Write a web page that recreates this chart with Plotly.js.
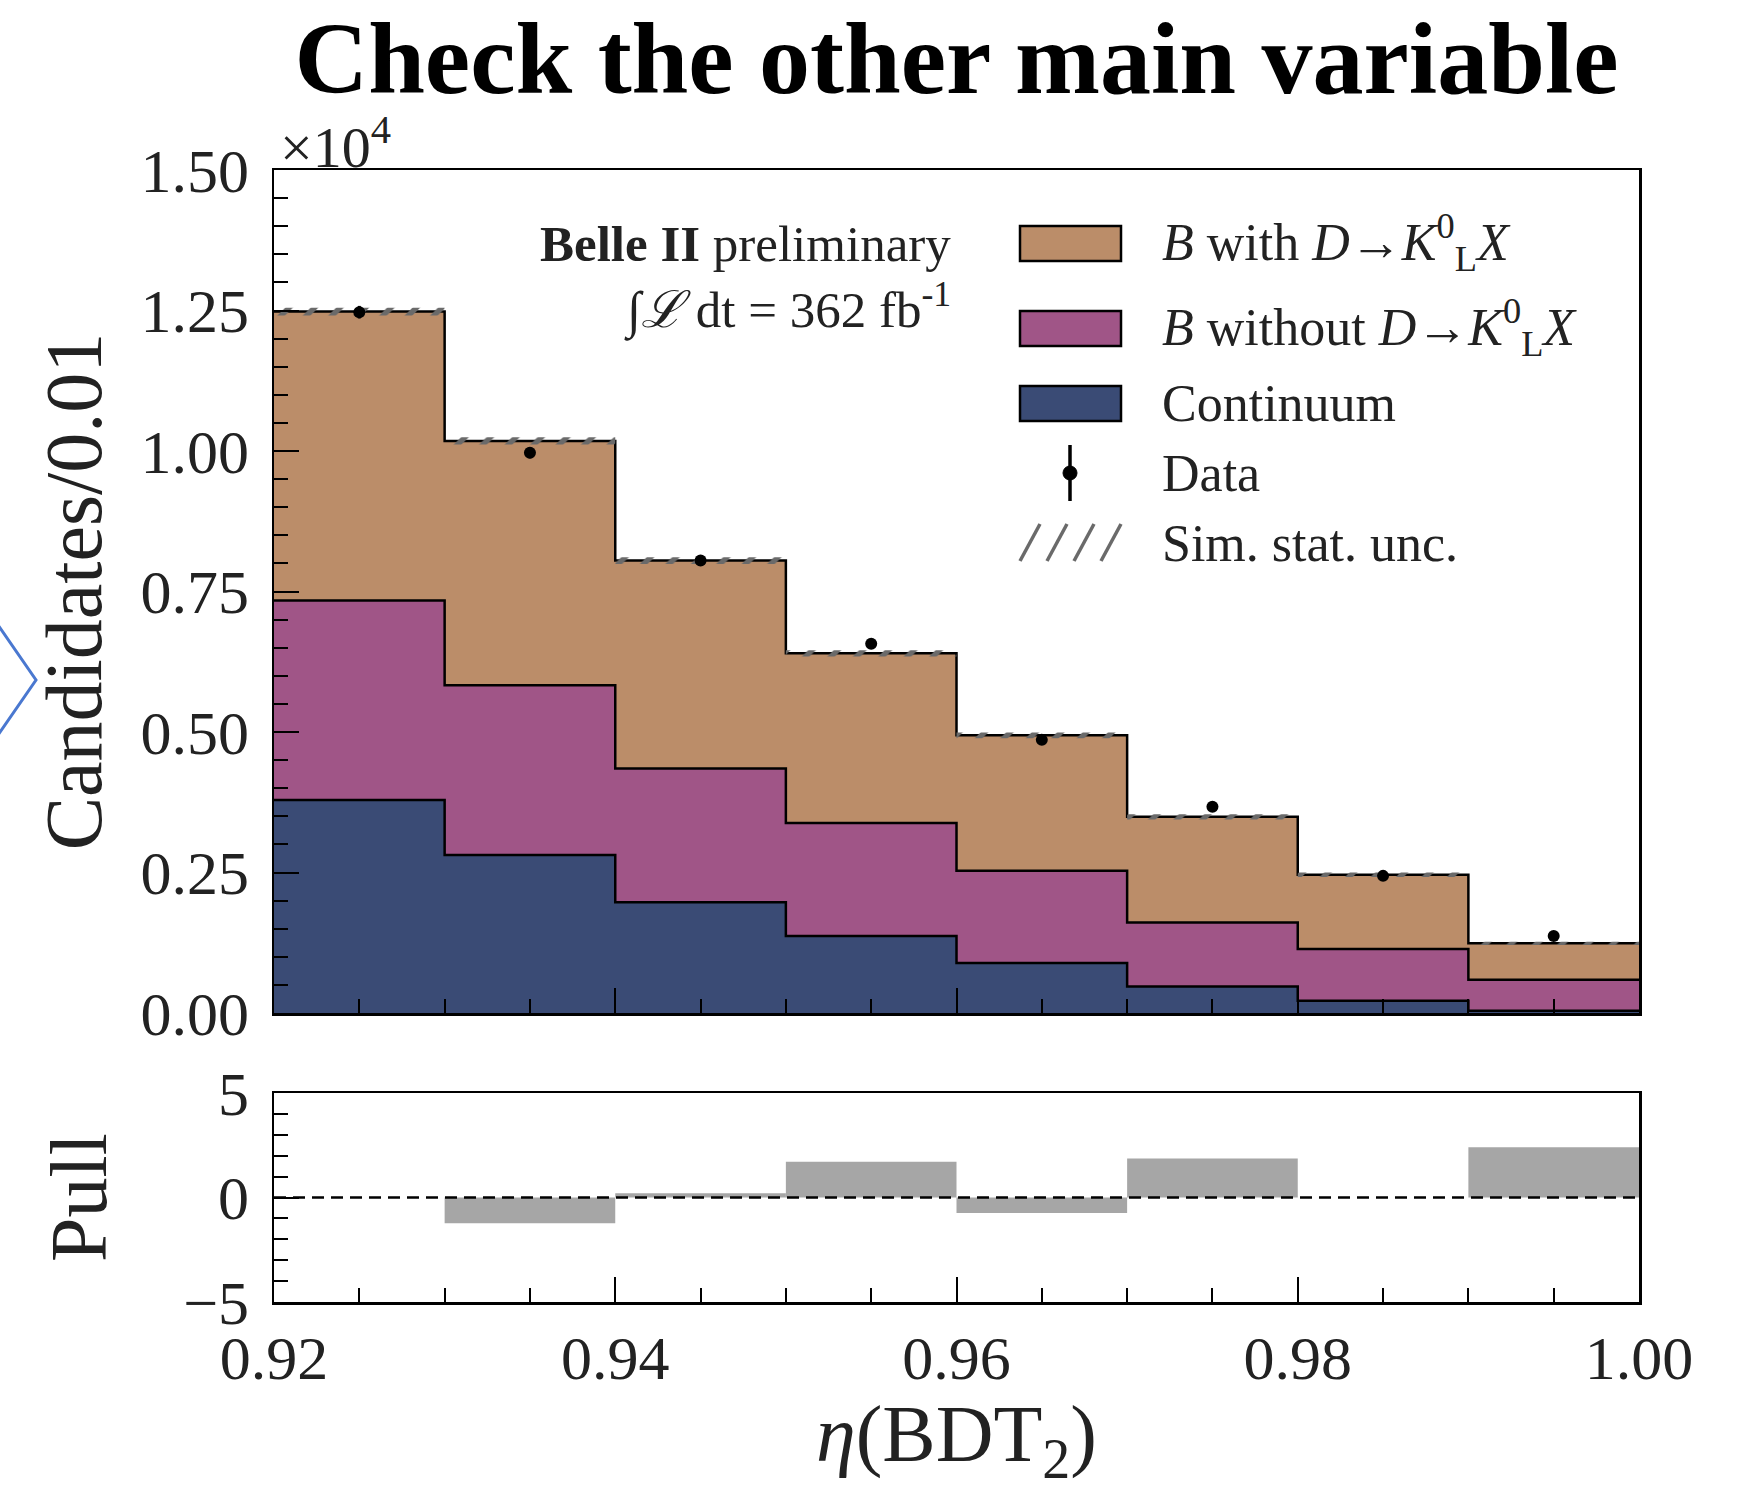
<!DOCTYPE html>
<html>
<head>
<meta charset="utf-8">
<script src="https://cdn.plot.ly/plotly-3.0.1.min.js"></script>
<style>html,body{margin:0;padding:0;background:#fff;}#chart{width:1752px;height:1490px;}</style>
</head>
<body>
<div id="chart"></div>
<script>
// ---- data (counts per bin of width 0.01) ----
const binEdges = [0.92, 0.93, 0.94, 0.95, 0.96, 0.97, 0.98, 0.99, 1.00];
const continuum = [3790, 2810, 1970, 1370, 890, 470, 220, 40];
const bWithout = [3550, 3020, 2380, 2010, 1640, 1140, 920, 550];
const bWith = [5140, 4350, 3700, 3020, 2410, 1880, 1320, 650];
const dataCounts = [12470, 9970, 8050, 6570, 4860, 3670, 2440, 1370];
const dataErr = [112, 100, 90, 81, 70, 61, 49, 37];
const simUnc = [70, 65, 60, 55, 50, 45, 40, 30];
const pull = [0.0, -1.23, 0.2, 1.71, -0.74, 1.87, 0.0, 2.4];
const yTickVals = [0, 2500, 5000, 7500, 10000, 12500, 15000];
const xTickVals = [0.92, 0.94, 0.96, 0.98, 1.00];
const legendLabels = [
  '<i>B</i> with <i>D</i>→<i>K</i><sup>0</sup><sub>L</sub><i>X</i>',
  '<i>B</i> without <i>D</i>→<i>K</i><sup>0</sup><sub>L</sub><i>X</i>',
  'Continuum', 'Data', 'Sim. stat. unc.'
];

// ---- derived ----
const centers = continuum.map((_, i) => (binEdges[i] + binEdges[i + 1]) / 2);
const cumPurple = continuum.map((v, i) => v + bWithout[i]);
const total = cumPurple.map((v, i) => v + bWith[i]);
const step = arr => arr.concat([arr[arr.length - 1]]);
const W = 1752, H = 1490, L = 274, R = 113, T = 170, B = 188;
const PW = W - L - R, PH = H - T - B;
const px = x => (x - L) / PW;
const py = y => (H - B - y) / PH;

const COL_BWITH = '#bb8d69', COL_BWO = '#a05587', COL_CONT = '#3a4b75';
const FONT = 'Liberation Serif, DejaVu Serif, serif';

const stepLine = {color: 'black', width: 2.5, shape: 'hv'};
const traces = [
  {x: binEdges, y: step(continuum), type: 'scatter', mode: 'lines', line: stepLine,
   fill: 'tozeroy', fillcolor: COL_CONT, xaxis: 'x', yaxis: 'y', hoverinfo: 'skip'},
  {x: binEdges, y: step(cumPurple), type: 'scatter', mode: 'lines', line: stepLine,
   fill: 'tonexty', fillcolor: COL_BWO, xaxis: 'x', yaxis: 'y', hoverinfo: 'skip'},
  {x: binEdges, y: step(total), type: 'scatter', mode: 'lines', line: stepLine,
   fill: 'tonexty', fillcolor: COL_BWITH, xaxis: 'x', yaxis: 'y', hoverinfo: 'skip'},
  {x: binEdges, y: step(total.map((v, i) => v - simUnc[i])), type: 'scatter', mode: 'lines',
   line: {width: 0, shape: 'hv'}, xaxis: 'x', yaxis: 'y', hoverinfo: 'skip'},
  {x: binEdges, y: step(total.map((v, i) => v + simUnc[i])), type: 'scatter', mode: 'lines',
   line: {width: 0, shape: 'hv'}, fill: 'tonexty', fillcolor: 'rgba(0,0,0,0)',
   fillpattern: {shape: '/', fgcolor: '#6a6a6a', bgcolor: 'rgba(0,0,0,0)', size: 18, solidity: 0.3},
   xaxis: 'x', yaxis: 'y', hoverinfo: 'skip'},
  {x: centers, y: dataCounts, type: 'scatter', mode: 'markers',
   marker: {color: 'black', size: 12},
   error_y: {type: 'data', array: dataErr, visible: true, color: 'black', thickness: 3, width: 0},
   xaxis: 'x', yaxis: 'y'},
  {x: centers, y: pull, type: 'bar', width: 0.01, marker: {color: '#a6a6a6', line: {width: 0}},
   xaxis: 'x2', yaxis: 'y2'}
];

const axisCommon = {
  showline: true, linecolor: 'black', linewidth: 2.5, mirror: true,
  ticks: 'inside', tickcolor: 'black', tickwidth: 2, ticklen: 25,
  showgrid: false, zeroline: false,
  tickfont: {family: FONT, size: 62, color: '#222'}
};

const shapes = [
  {type: 'line', xref: 'paper', yref: 'y2', x0: 0, x1: 1, y0: 0, y1: 0,
   line: {color: 'black', width: 2.5, dash: '12px,7px'}},
  // decorative chevron at the left edge
  {type: 'path', xref: 'paper', yref: 'paper',
   path: `M ${px(-4)} ${py(622)} L ${px(36)} ${py(680)} L ${px(-4)} ${py(738)}`,
   line: {color: '#4a78d0', width: 3}},
  // legend boxes
  {type: 'rect', xref: 'paper', yref: 'paper', x0: px(1020), x1: px(1121), y0: py(261), y1: py(226),
   fillcolor: COL_BWITH, line: {color: 'black', width: 2.5}},
  {type: 'rect', xref: 'paper', yref: 'paper', x0: px(1020), x1: px(1121), y0: py(346), y1: py(311),
   fillcolor: COL_BWO, line: {color: 'black', width: 2.5}},
  {type: 'rect', xref: 'paper', yref: 'paper', x0: px(1020), x1: px(1121), y0: py(421), y1: py(386),
   fillcolor: COL_CONT, line: {color: 'black', width: 2.5}},
  {type: 'line', xref: 'paper', yref: 'paper', x0: px(1070), x1: px(1070), y0: py(445), y1: py(501),
   line: {color: 'black', width: 3.5}},
  {type: 'circle', xref: 'paper', yref: 'paper', x0: px(1063), x1: px(1077), y0: py(480), y1: py(466),
   fillcolor: 'black', line: {color: 'black', width: 1}}
];
[1020, 1047, 1074, 1101].forEach(x0 => {
  shapes.push({type: 'line', xref: 'paper', yref: 'paper', x0: px(x0), x1: px(x0 + 20),
    y0: py(561), y1: py(524), line: {color: '#6a6a6a', width: 3.5}});
});

const legendY = [242, 327, 403, 473, 543];
const annotations = legendLabels.map((t, i) => ({
  text: t, xref: 'paper', yref: 'paper', x: px(1160), y: py(legendY[i]),
  xanchor: 'left', yanchor: 'middle', showarrow: false,
  font: {family: FONT, size: 52, color: '#222'}
}));
annotations.push(
  {text: '<b>Belle II</b> preliminary', xref: 'paper', yref: 'paper', x: px(953), y: py(244),
   xanchor: 'right', yanchor: 'middle', showarrow: false, font: {family: FONT, size: 51, color: '#222'}},
  {text: '∫<i>ℒ</i> dt = 362 fb<sup>-1</sup>', xref: 'paper', yref: 'paper', x: px(953), y: py(307),
   xanchor: 'right', yanchor: 'middle', showarrow: false, font: {family: FONT, size: 51, color: '#222'}},
  {text: '×10<sup>4</sup>', xref: 'paper', yref: 'paper', x: px(278), y: py(143),
   xanchor: 'left', yanchor: 'middle', showarrow: false, font: {family: FONT, size: 58, color: '#222'}}
);

const layout = {
  width: W, height: H,
  margin: {l: L, r: R, t: T, b: B},
  paper_bgcolor: 'white', plot_bgcolor: 'white',
  showlegend: false, barmode: 'overlay',
  title: {text: '<b>Check the other main variable</b>', font: {family: FONT, size: 102, color: 'black'},
          x: 0.5, xref: 'paper', xanchor: 'center', y: 1 - 57 / H, yref: 'container', yanchor: 'middle'},
  xaxis: Object.assign({}, axisCommon, {range: [0.92, 1.00], anchor: 'y', showticklabels: false,
    tickvals: xTickVals, tickmode: 'array', matches: 'x2',
    minor: {tickmode: 'linear', tick0: 0.92, dtick: 0.005, ticks: 'inside', ticklen: 14, tickwidth: 2, tickcolor: 'black'}}),
  yaxis: Object.assign({}, axisCommon, {range: [0, 15000], domain: [py(1013), 1], anchor: 'x',
    tickmode: 'array', tickvals: yTickVals, ticktext: yTickVals.map(v => (v / 1e4).toFixed(2)),
    ticklabelstandoff: 10,
    minor: {tickmode: 'linear', tick0: 0, dtick: 500, ticks: 'inside', ticklen: 14, tickwidth: 2, tickcolor: 'black'},
    title: {text: 'Candidates/0.01', font: {family: FONT, size: 80, color: '#222'}, standoff: 13}}),
  xaxis2: Object.assign({}, axisCommon, {range: [0.92, 1.00], anchor: 'y2',
    tickmode: 'array', tickvals: xTickVals, ticktext: xTickVals.map(v => v.toFixed(2)),
    ticklabelstandoff: 0,
    minor: {tickmode: 'linear', tick0: 0.92, dtick: 0.005, ticks: 'inside', ticklen: 14, tickwidth: 2, tickcolor: 'black'},
    title: {text: '<i>η</i>(BDT<sub>2</sub>)', font: {family: FONT, size: 80, color: '#222'}, standoff: 47}}),
  yaxis2: Object.assign({}, axisCommon, {range: [-5, 5], domain: [0, py(1093)], anchor: 'x2',
    tickmode: 'array', tickvals: [-5, 0, 5], ticklabelstandoff: 10,
    minor: {tickmode: 'linear', tick0: 0, dtick: 1, ticks: 'inside', ticklen: 14, tickwidth: 2, tickcolor: 'black'},
    title: {text: 'Pull', font: {family: FONT, size: 80, color: '#222'}, standoff: 50}}),
  shapes: shapes,
  annotations: annotations
};

Plotly.newPlot('chart', traces, layout, {displayModeBar: false, staticPlot: true});
</script>
</body>
</html>
